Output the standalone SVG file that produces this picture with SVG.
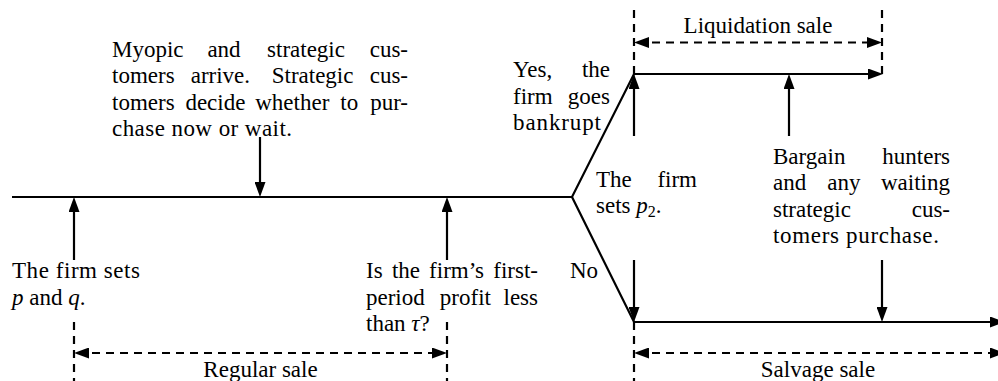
<svg xmlns="http://www.w3.org/2000/svg" width="998" height="381" viewBox="0 0 998 381" font-family="Liberation Serif, DejaVu Serif, serif">
<style>
text{font-family:'Liberation Serif','DejaVu Serif',serif;font-size:23px;fill:#000}
.m{text-anchor:middle}
.e{text-anchor:end}
.i{font-style:italic}
.ln{fill:none;stroke:#000;stroke-width:2.2;stroke-linejoin:miter}
.ar{fill:none;stroke:#000;stroke-width:2.2;marker-end:url(#ah)}
.da{fill:none;stroke:#000;stroke-width:2.2;stroke-dasharray:8 6}
.dd{fill:none;stroke:#000;stroke-width:2.2;stroke-dasharray:8 6;marker-start:url(#ah);marker-end:url(#ah)}
</style>
<defs>
<marker id="ah" viewBox="0 0 15 11" markerWidth="15" markerHeight="11" refX="11" refY="5.5" orient="auto-start-reverse" markerUnits="userSpaceOnUse">
<path d="M0,0 L15,5.5 L0,11 z" fill="#000"/>
</marker>
</defs>
<rect width="998" height="381" fill="#fff"/>
<g id="connectors">
<path class="ln" d="M12,197 L572,197 L634,74 L879,74" marker-end="url(#ah)"/>
<path class="ln" d="M572,197 L634,322 L1001,322" marker-end="url(#ah)"/>
<line class="ar" x1="74" y1="260" x2="74" y2="201"/>
<line class="ar" x1="447" y1="260" x2="447" y2="201"/>
<line class="ar" x1="260" y1="137" x2="260" y2="193"/>
<line class="ar" x1="634" y1="136" x2="634" y2="78"/>
<line class="ar" x1="789" y1="136" x2="789" y2="78"/>
<line class="ar" x1="634" y1="260" x2="634" y2="318"/>
<line class="ar" x1="882" y1="260" x2="882" y2="318"/>
<line class="da" x1="74" y1="322" x2="74" y2="381"/>
<line class="da" x1="447" y1="322" x2="447" y2="381"/>
<line class="da" x1="634" y1="322" x2="634" y2="381"/>
<line class="da" x1="634" y1="74" x2="634" y2="8"/>
<line class="da" x1="882" y1="74" x2="882" y2="8"/>
<line class="dd" x1="78" y1="353" x2="443" y2="353"/>
<line class="dd" x1="638" y1="353" x2="1001" y2="353"/>
<line class="dd" x1="638" y1="42.5" x2="878" y2="42.5"/>
</g>
<g id="arrive">
<text y="56.5"><tspan x="112">Myopic</tspan><tspan class="m" x="224">and</tspan><tspan class="m" x="306">strategic</tspan><tspan class="e" x="408">cus-</tspan></text>
<text y="83"><tspan x="112">tomers</tspan><tspan class="m" x="220.4">arrive.</tspan><tspan class="m" x="312.6">Strategic</tspan><tspan class="e" x="408">cus-</tspan></text>
<text y="109.5"><tspan x="112">tomers</tspan><tspan class="m" x="215.4">decide</tspan><tspan class="m" x="292.3">whether</tspan><tspan class="m" x="349.2">to</tspan><tspan class="e" x="408">pur-</tspan></text>
<text x="112" y="136" textLength="180">chase now or wait.</text>
</g>
<g id="setpq">
<text x="12" y="278" textLength="128">The firm sets</text>
<text x="12" y="304.5"><tspan class="i">p</tspan> and <tspan class="i">q</tspan>.</text>
</g>
<g id="profit">
<text y="278"><tspan x="366">Is</tspan><tspan class="m" x="406">the</tspan><tspan class="m" x="456.6">firm’s</tspan><tspan class="e" x="538">first-</tspan></text>
<text y="304.5"><tspan x="366">period</tspan><tspan class="m" x="465.4">profit</tspan><tspan class="e" x="538">less</tspan></text>
<text x="366" y="331">than <tspan class="i">τ</tspan>?</text>
</g>
<g id="bankrupt">
<text y="77"><tspan x="513">Yes,</tspan><tspan class="e" x="610">the</tspan></text>
<text y="103.5"><tspan x="513">firm</tspan><tspan class="e" x="610">goes</tspan></text>
<text x="513" y="130" textLength="88">bankrupt</text>
</g>
<g id="no">
<text x="570" y="278">No</text>
</g>
<g id="setp2">
<text y="186.5"><tspan x="596">The</tspan><tspan class="e" x="697">firm</tspan></text>
<text x="596" y="213">sets <tspan class="i">p</tspan><tspan font-size="16" dy="4">2</tspan><tspan dy="-4">.</tspan></text>
</g>
<g id="bargain">
<text y="163.5"><tspan x="773">Bargain</tspan><tspan class="e" x="950">hunters</tspan></text>
<text y="190"><tspan x="773">and</tspan><tspan class="m" x="843.8">any</tspan><tspan class="e" x="950">waiting</tspan></text>
<text y="216.5"><tspan x="773">strategic</tspan><tspan class="e" x="950">cus-</tspan></text>
<text x="773" y="243" textLength="166">tomers purchase.</text>
</g>
<g id="liquidation">
<text class="m" x="758" y="33">Liquidation sale</text>
</g>
<g id="regular">
<text class="m" x="260.5" y="377">Regular sale</text>
</g>
<g id="salvage">
<text class="m" x="818" y="377">Salvage sale</text>
</g>
</svg>
